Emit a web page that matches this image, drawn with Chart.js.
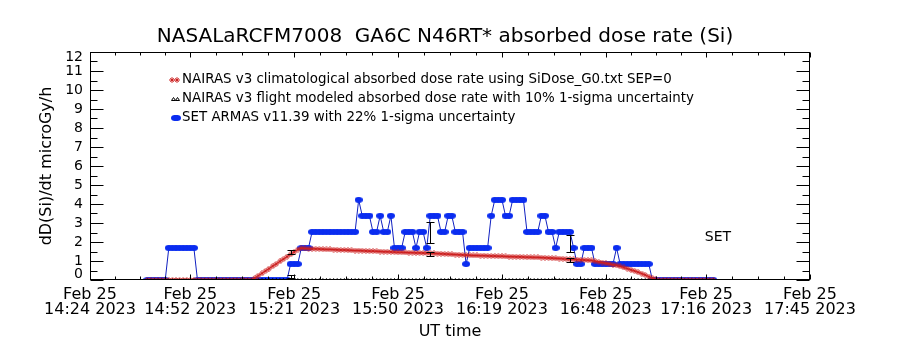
<!DOCTYPE html>
<html>
<head>
<meta charset="utf-8">
<script src="https://cdn.jsdelivr.net/npm/chart.js@4.4.1/dist/chart.umd.min.js"></script>
<style>
  body { margin: 0; background: #fff; }
  canvas { display: block; }
</style>
</head>
<body>
<canvas id="doseChart" width="900" height="350"></canvas>
<script>
// minutes after 14:24 UT, one sample per minute starting at 14:40
const sampleStart = 16;

const xTickMinutes = [0, 28, 57, 86, 115, 144, 172, 201];
const xTickLabels = [
  ['Feb 25', '14:24 2023'], ['Feb 25', '14:52 2023'], ['Feb 25', '15:21 2023'],
  ['Feb 25', '15:50 2023'], ['Feb 25', '16:19 2023'], ['Feb 25', '16:48 2023'],
  ['Feb 25', '17:16 2023'], ['Feb 25', '17:45 2023']
];
const yTickLabels = ['0','1','2','3','4','5','6','7','8','9','10','11','12'];

// NAIRAS v3 climatological (red)
const nairasClim = [
  0, 0, 0, 0, 0, 0, 0, 0, 0, 0,
  0, 0, 0, 0, 0, 0, 0, 0, 0, 0,
  0, 0, 0, 0, 0, 0, 0, 0, 0, 0,
  0.1, 0.23, 0.35, 0.48, 0.6, 0.73, 0.85, 0.98, 1.1, 1.23,
  1.35, 1.48, 1.6, 1.68, 1.66, 1.65, 1.64, 1.64, 1.63, 1.62,
  1.61, 1.61, 1.60, 1.59, 1.58, 1.58, 1.57, 1.56, 1.55, 1.55,
  1.54, 1.53, 1.52, 1.52, 1.51, 1.50, 1.49, 1.49, 1.48, 1.47,
  1.46, 1.46, 1.45, 1.44, 1.44, 1.43, 1.43, 1.42, 1.42, 1.41,
  1.40, 1.39, 1.38, 1.37, 1.36, 1.35, 1.34, 1.33, 1.32, 1.31,
  1.30, 1.29, 1.29, 1.28, 1.28, 1.27, 1.26, 1.26, 1.25, 1.25,
  1.24, 1.23, 1.23, 1.22, 1.22, 1.21, 1.20, 1.20, 1.19, 1.19,
  1.18, 1.17, 1.16, 1.15, 1.14, 1.13, 1.12, 1.10, 1.09, 1.08,
  1.07, 1.06, 1.05, 1.04, 1.03, 0.99, 0.95, 0.92, 0.88, 0.85,
  0.80, 0.77, 0.72, 0.66, 0.60, 0.54, 0.48, 0.41, 0.34, 0.26,
  0.18, 0.10, 0.03, 0, 0, 0, 0, 0, 0, 0,
  0, 0, 0, 0, 0, 0, 0, 0, 0
];

// NAIRAS v3 flight modeled (black triangles)
const nairasFlight = [
  0,0,0,0,0,0,0,0,0,0, 0,0,0,0,0,0,0,0,0,0, 0,0,0,0,0,0,0,0,0,0,
  0,0,0,0,0,0,0,0,0,0, 0,0,0,0,0,0,0,0,0,0, 0,0,0,0,0,0,0,0,0,0,
  0,0,0,0,0,0,0,0,0,0, 0,0,0,0,0,0,0,0,0,0, 0,0,0,0,0,0,0,0,0,0,
  0,0,0,0,0,0,0,0,0,0, 0,0,0,0,0,0,0,0,0,0, 0,0,0,0,0,0,0,0,0,0,
  0,0,0,0,0,0,0,0,0,0, 0,0,0,0,0,0,0,0,0,0, 0,0,0,0,0,0,0,0,0,0,
  0,0,0,0,0,0,0,0,0
];

// SET ARMAS v11.39 (blue)
const setArmas = [
  0, 0, 0, 0, 0, 0, 1.69, 1.69, 1.69, 1.69,
  1.69, 1.69, 1.69, 1.69, 0, 0, 0, 0, 0, 0,
  0, 0, 0, 0, 0, 0, 0, 0, 0, 0,
  0, 0, 0, 0, 0, 0, 0, 0, 0, 0,
  0.84, 0.84, 0.84, 1.69, 1.69, 1.69, 2.53, 2.53, 2.53, 2.53,
  2.53, 2.53, 2.53, 2.53, 2.53, 2.53, 2.53, 2.53, 2.53, 4.22,
  3.38, 3.38, 3.38, 2.53, 2.53, 3.38, 2.53, 2.53, 3.38, 1.69,
  1.69, 1.69, 2.53, 2.53, 2.53, 1.69, 2.53, 2.53, 1.69, 3.38,
  3.38, 3.38, 2.53, 2.53, 3.38, 3.38, 2.53, 2.53, 2.53, 0.84,
  1.69, 1.69, 1.69, 1.69, 1.69, 1.69, 3.38, 4.22, 4.22, 4.22,
  3.38, 3.38, 4.22, 4.22, 4.22, 4.22, 2.53, 2.53, 2.53, 2.53,
  3.38, 3.38, 2.53, 2.53, 1.69, 2.53, 2.53, 2.53, 2.53, 1.69,
  0.84, 0.84, 1.69, 1.69, 1.69, 0.84, 0.84, 0.84, 0.84, 0.84,
  0.84, 1.69, 0.84, 0.84, 0.84, 0.84, 0.84, 0.84, 0.84, 0.84,
  0.84, 0, 0, 0, 0, 0, 0, 0, 0, 0,
  0, 0, 0, 0, 0, 0, 0, 0, 0
];

// error bars
const errMinutes = [56, 95, 134];
const setErrLow = [0.1, 1.95, 1.5];
const setErrHigh = [0.25, 3.05, 2.35];
const nairasErrLow = [1.35, 1.25, 0.95];
const nairasErrHigh = [1.6, 1.47, 1.18];

const titleText = 'NASALaRCFM7008  GA6C N46RT* absorbed dose rate (Si)';
const legendTexts = [
  'NAIRAS v3 climatological absorbed dose rate using SiDose_G0.txt SEP=0',
  'NAIRAS v3 flight modeled absorbed dose rate with 10% 1-sigma uncertainty',
  'SET ARMAS v11.39 with 22% 1-sigma uncertainty'
];

const FONT = 'DejaVu Sans';
const RED = '#cc1f1f';
const BLUE = '#0a2cf0';

function makeMark(w, h, draw) {
  const c = document.createElement('canvas');
  c.width = w; c.height = h;
  draw(c.getContext('2d'));
  return c;
}
const redMark = makeMark(6, 6, g => {
  g.strokeStyle = RED; g.lineWidth = 1;
  g.beginPath();
  g.moveTo(3, 0.5); g.lineTo(5.5, 3); g.lineTo(3, 5.5); g.lineTo(0.5, 3); g.closePath();
  g.moveTo(1.5, 1.5); g.lineTo(4.5, 4.5);
  g.moveTo(4.5, 1.5); g.lineTo(1.5, 4.5);
  g.stroke();
});
const blueMark = makeMark(8, 6, g => {
  g.fillStyle = BLUE;
  g.beginPath(); g.ellipse(4, 3, 4, 3, 0, 0, Math.PI * 2); g.fill();
});
const blackMark = makeMark(5, 4, g => {
  g.strokeStyle = '#000'; g.lineWidth = 1;
  g.beginPath();
  g.moveTo(2.5, 0.5); g.lineTo(4.5, 3.5); g.lineTo(0.5, 3.5); g.closePath();
  g.stroke();
});

const toPoints = arr => arr.map((v, i) => ({ x: sampleStart + i, y: v }));

const framePlugin = {
  id: 'frame',
  afterDraw(chart) {
    const { ctx, chartArea: a, scales: { x, y } } = chart;
    ctx.save();
    ctx.strokeStyle = '#000';
    ctx.lineWidth = 1;
    const L = a.left + 0.5, R = a.right - 0.5, T = a.top + 0.5, B = a.bottom - 0.5;
    ctx.strokeRect(L, T, R - L, B - T);

    // y ticks, inward on both sides
    ctx.beginPath();
    for (let k = 0; k <= 24; k++) {
      const py = Math.round(y.getPixelForValue(k / 2)) + 0.5;
      const len = k % 2 === 0 ? 13 : 7;
      ctx.moveTo(L, py); ctx.lineTo(L + len, py);
      ctx.moveTo(R, py); ctx.lineTo(R - len, py);
    }
    // x ticks, inward top and bottom
    for (let i = 0; i < xTickMinutes.length; i++) {
      const px = Math.round(x.getPixelForValue(xTickMinutes[i])) + 0.5;
      ctx.moveTo(px, B); ctx.lineTo(px, B - 5);
      ctx.moveTo(px, T); ctx.lineTo(px, T + 5);
      if (i < xTickMinutes.length - 1) {
        const step = (xTickMinutes[i + 1] - xTickMinutes[i]) / 4;
        for (let j = 1; j < 4; j++) {
          const mx = Math.round(x.getPixelForValue(xTickMinutes[i] + j * step)) + 0.5;
          ctx.moveTo(mx, B); ctx.lineTo(mx, B - 3);
          ctx.moveTo(mx, T); ctx.lineTo(mx, T + 3);
        }
      }
    }
    ctx.stroke();

    // title
    ctx.fillStyle = '#000';
    ctx.font = '20px "' + FONT + '"';
    ctx.textAlign = 'center';
    ctx.textBaseline = 'middle';
    ctx.fillText(titleText, 445, 37);

    // y tick labels
    ctx.font = '14px "' + FONT + '"';
    ctx.textAlign = 'right';
    yTickLabels.forEach((lab, k) => {
      let py = y.getPixelForValue(k);
      if (k === 0) py -= 6;
      if (k === yTickLabels.length - 1) py += 5;
      ctx.fillText(lab, a.left - 7, py);
    });

    // error bars
    ctx.beginPath();
    const bar = (t, lo, hi) => {
      const px = Math.round(x.getPixelForValue(t)) + 0.5;
      const y1 = Math.round(y.getPixelForValue(lo)) + 0.5;
      const y2 = Math.round(y.getPixelForValue(hi)) + 0.5;
      ctx.moveTo(px, y1); ctx.lineTo(px, y2);
      ctx.moveTo(px - 4, y1); ctx.lineTo(px + 4, y1);
      ctx.moveTo(px - 4, y2); ctx.lineTo(px + 4, y2);
    };
    errMinutes.forEach((t, i) => {
      bar(t, setErrLow[i], setErrHigh[i]);
      bar(t, nairasErrLow[i], nairasErrHigh[i]);
    });
    ctx.stroke();

    // legend
    ctx.font = '13.4px "' + FONT + '"';
    ctx.textAlign = 'left';
    const rows = [80, 99, 118];
    ctx.drawImage(redMark, 169, rows[0] - 3);
    ctx.drawImage(redMark, 174, rows[0] - 3);
    ctx.drawImage(blackMark, 171, rows[1] - 2);
    ctx.drawImage(blackMark, 175, rows[1] - 2);
    ctx.drawImage(blueMark, 171, rows[2] - 3);
    ctx.drawImage(blueMark, 173, rows[2] - 3);
    legendTexts.forEach((txt, i) => ctx.fillText(txt, 182, rows[i]));

    // instrument tag
    ctx.font = '14px "' + FONT + '"';
    ctx.textAlign = 'center';
    ctx.fillText('SET', x.getPixelForValue(175.3), y.getPixelForValue(2.25));
    ctx.restore();
  }
};

new Chart(document.getElementById('doseChart'), {
  type: 'line',
  data: {
    datasets: [
      {
        label: legendTexts[0],
        data: toPoints(nairasClim),
        borderColor: RED, borderWidth: 1,
        pointStyle: redMark, clip: 0
      },
      {
        label: legendTexts[1],
        data: toPoints(nairasFlight),
        showLine: false,
        pointStyle: blackMark, clip: 0
      },
      {
        label: legendTexts[2],
        data: toPoints(setArmas),
        borderColor: '#1020c0', borderWidth: 1,
        pointStyle: blueMark, clip: 0
      }
    ]
  },
  options: {
    responsive: false,
    animation: false,
    layout: { padding: { top: 52, right: 90 } },
    plugins: {
      legend: { display: false },
      tooltip: { enabled: false },
      title: { display: false }
    },
    scales: {
      x: {
        type: 'linear',
        min: 0, max: 201,
        afterBuildTicks: s => { s.ticks = xTickMinutes.map(v => ({ value: v })); },
        afterFit: s => { s.height = 70; s.paddingLeft = 0; s.paddingRight = 0; },
        grid: { display: false, drawTicks: false },
        border: { display: false },
        ticks: {
          autoSkip: false, maxRotation: 0, padding: 7.5, color: '#000',
          font: { family: FONT, size: 16, lineHeight: '15px' },
          callback: (v, i) => xTickLabels[i]
        },
        title: {
          display: true, text: 'UT time', color: '#000',
          font: { family: FONT, size: 16, lineHeight: 1.2 },
          padding: { top: 0, bottom: 8.4 }
        }
      },
      y: {
        min: 0, max: 12,
        afterFit: s => { s.width = 90; s.paddingTop = 0; s.paddingBottom = 0; },
        grid: { display: false, drawTicks: false },
        border: { display: false },
        ticks: { display: false },
        title: {
          display: true, text: 'dD(Si)/dt microGy/h', color: '#000',
          font: { family: FONT, size: 16, lineHeight: 1.2 },
          padding: { top: 37, bottom: 0 }
        }
      }
    }
  },
  plugins: [framePlugin]
});
</script>
</body>
</html>
